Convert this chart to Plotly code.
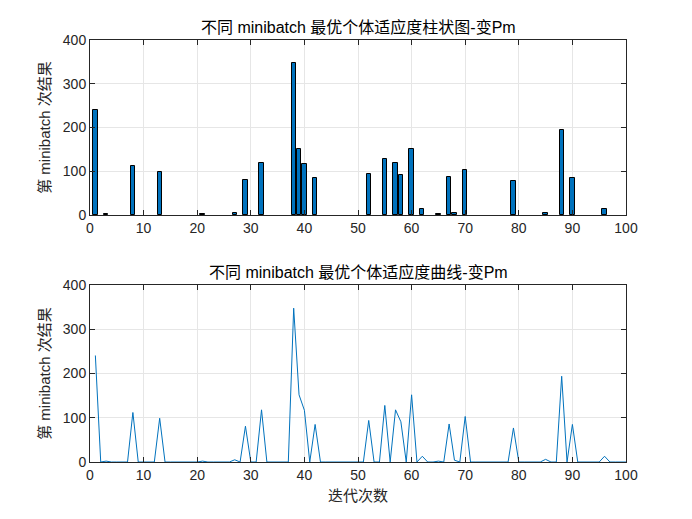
import plotly.graph_objects as go

iterations = list(range(1, 101))
nonzero = {1: 241, 3: 2, 8: 112, 13: 99, 21: 2, 27: 5, 29: 81, 32: 118,
           38: 348, 39: 152, 40: 117, 42: 85, 52: 94, 55: 128, 57: 118, 58: 91,
           60: 152, 62: 13, 65: 2, 67: 86, 68: 4, 70: 103, 79: 77, 85: 6,
           88: 194, 90: 85, 96: 13}
values = [nonzero.get(i, 0) for i in iterations]
bar_values = [v if v > 0 else None for v in values]

x_ticks = list(range(0, 101, 10))
y_ticks = list(range(0, 401, 100))

title_top = "不同 minibatch 最优个体适应度柱状图-变Pm"
title_bottom = "不同 minibatch 最优个体适应度曲线-变Pm"
ylabel = "第 minibatch 次结果"
xlabel = "迭代次数"

blue = "#0072BD"
font = "Liberation Sans, Arial, Noto Sans CJK SC, sans-serif"

fig = go.Figure()
fig.add_trace(go.Bar(x=iterations, y=bar_values, width=0.8,
                     marker=dict(color=blue, line=dict(color="black", width=1)),
                     xaxis="x", yaxis="y", showlegend=False))
fig.add_trace(go.Scatter(x=iterations, y=values, mode="lines",
                         line=dict(color=blue, width=1),
                         xaxis="x2", yaxis="y2", showlegend=False))

axcommon = dict(showline=True, mirror="allticks", linecolor="#262626", linewidth=1,
                ticks="inside", ticklen=5, tickcolor="#262626",
                showgrid=True, gridcolor="#e6e6e6", gridwidth=1, zeroline=False,
                tickfont=dict(family=font, size=14, color="#262626"))

labfont = dict(family=font, size=15, color="#262626")

fig.update_layout(
    width=692, height=519,
    margin=dict(l=82, r=74, t=32, b=65),
    plot_bgcolor="white", paper_bgcolor="white",
    bargap=0,
    xaxis=dict(domain=[0, 1], range=[0, 100], tickvals=x_ticks, anchor="y", **axcommon),
    yaxis=dict(domain=[0.585, 1], range=[0, 400], tickvals=y_ticks, anchor="x",
               title=dict(text=ylabel, font=labfont, standoff=8), **axcommon),
    xaxis2=dict(domain=[0, 1], range=[0, 100], tickvals=x_ticks, anchor="y2",
                title=dict(text=xlabel, font=labfont, standoff=8), **axcommon),
    yaxis2=dict(domain=[0, 0.419], range=[0, 400], tickvals=y_ticks, anchor="x2",
                title=dict(text=ylabel, font=labfont, standoff=8), **axcommon),
    annotations=[
        dict(text=title_top, x=0.5, y=1, xref="paper", yref="paper", xanchor="center",
             yanchor="bottom", yshift=2, showarrow=False,
             font=dict(family=font, size=16, color="black")),
        dict(text=title_bottom, x=0.5, y=0.419, xref="paper", yref="paper", xanchor="center",
             yanchor="bottom", yshift=2, showarrow=False,
             font=dict(family=font, size=16, color="black")),
    ],
)

fig.write_html("out.html")
